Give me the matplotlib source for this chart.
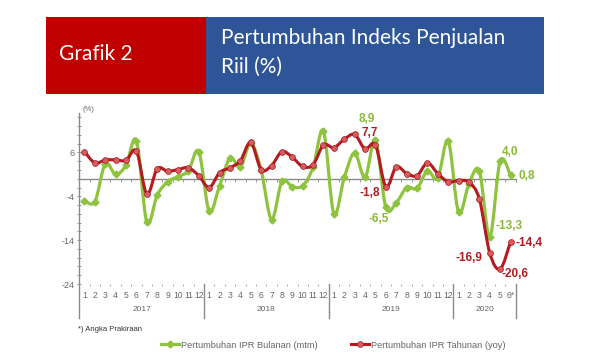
import numpy as np
import matplotlib
matplotlib.use("Agg")
import matplotlib.pyplot as plt
from matplotlib.path import Path
from matplotlib.patches import PathPatch, Rectangle
from matplotlib.lines import Line2D
from matplotlib import font_manager as fm

# ---------------- data ----------------
years = ["2017", "2018", "2019", "2020"]
months_per_year = [12, 12, 12, 6]
month_labels = [str(m) for m in range(1, 13)] * 3 + ["1", "2", "3", "4", "5", "6*"]

mtm = [-5.0, -5.2, 3.4, 1.0, 3.1, 8.7, -9.9, -3.7, -0.7, 0.5, 1.8, 6.2,
       -7.4, -1.6, 4.7, 2.7, 8.1, 2.0, -9.3, -0.6, -1.8, -1.6, 2.6, 10.9,
       -8.0, 0.3, 5.9, 0.3, 8.9, -6.5, -5.5, -2.0, -2.2, 1.8, 0.1, 8.7,
       -7.6, -1.2, 1.8, -13.3, 4.0, 0.8]
yoy = [6.2, 3.6, 4.3, 4.3, 4.2, 6.3, -3.5, 2.3, 1.7, 2.1, 2.5, 0.7,
       -2.0, 1.4, 2.5, 4.1, 8.3, 2.1, 3.0, 6.2, 4.9, 2.8, 3.2, 7.7,
       7.1, 9.0, 10.1, 6.8, 7.7, -1.8, 2.7, 1.2, 0.7, 3.6, 1.2, -0.7,
       -0.4, -0.8, -4.6, -16.9, -20.6, -14.4]
y_ticks = [6, -4, -14, -24]

# labelled points: (index, text, offset in pixels)
labels_mtm = [(28, "8,9", (-9, 21)), (29, "-6,5", (-7, -12)), (39, "-13,3", (19, 11)),
              (40, "4,0", (10, 9)), (41, "0,8", (16, -1))]
labels_yoy = [(28, "7,7", (-6, 12)), (29, "-1,8", (-16, -6)), (39, "-16,9", (-21, -5)),
              (40, "-20,6", (15, -5)), (41, "-14,4", (18, -1))]

GREEN = "#8DC33E"
GREEN_TXT = "#8CB83C"
RED = "#B31B20"
RED_FACE = "#D75A5C"
GRAY = "#666666"

names = {f.name for f in fm.fontManager.ttflist}
NARROW = "Liberation Sans Narrow" if "Liberation Sans Narrow" in names else "Liberation Sans"
HEAD = "Lato" if "Lato" in names else "DejaVu Sans"

W, H = 600, 360
fig = plt.figure(figsize=(6, 3.6), dpi=100)

def fx(px):
    return px / W

def fy(py):
    return 1 - py / H

# ---------------- header ----------------
fig.patches.append(Rectangle((fx(46), fy(94)), fx(206) - fx(46), (94 - 17.3) / H,
                             transform=fig.transFigure, facecolor="#C00000", edgecolor="none"))
fig.patches.append(Rectangle((fx(206), fy(94)), fx(544) - fx(206), (94 - 17.3) / H,
                             transform=fig.transFigure, facecolor="#2E5597", edgecolor="none"))
fig.text(fx(59), fy(60), "Grafik 2", color="white", fontsize=15, family=HEAD,
         ha="left", va="baseline")
fig.text(fx(221), fy(43.5), "Pertumbuhan Indeks Penjualan", color="white", fontsize=15,
         family=HEAD, ha="left", va="baseline")
fig.text(fx(221), fy(73), "Riil (%)", color="white", fontsize=15, family=HEAD,
         ha="left", va="baseline")

# ---------------- axes ----------------
ax = fig.add_axes([fx(79.3), fy(284), (515.7 - 79.3) / W, 171 / H])
n = len(mtm)
x = np.arange(n)
ax.set_xlim(-0.5, n - 0.5)
ax.set_ylim(-24, 15)

def smooth_path(xs, ys):
    pts = np.column_stack([xs, ys]).astype(float)
    m = len(pts)
    verts = [pts[0]]
    codes = [Path.MOVETO]
    for i in range(m - 1):
        p0 = pts[i - 1] if i > 0 else pts[i]
        p1 = pts[i]
        p2 = pts[i + 1]
        p3 = pts[i + 2] if i + 2 < m else pts[i + 1]
        c1 = p1 + (p2 - p0) / 6.0
        c2 = p2 - (p3 - p1) / 6.0
        verts += [c1, c2, p2]
        codes += [Path.CURVE4] * 3
    return Path(verts, codes)

ax.add_patch(PathPatch(smooth_path(x, mtm), fill=False, edgecolor=GREEN, lw=2.3,
                       capstyle="round", joinstyle="round", zorder=3))
ax.plot(x, mtm, ls="none", marker="D", ms=3.5, color=GREEN, zorder=4)
ax.add_patch(PathPatch(smooth_path(x, yoy), fill=False, edgecolor=RED, lw=2.2,
                       capstyle="round", joinstyle="round", zorder=5))
ax.plot(x, yoy, ls="none", marker="o", ms=4.2, markerfacecolor=RED_FACE,
        markeredgecolor="#A01A1E", markeredgewidth=0.5, zorder=6)

for idx, txt, off in labels_mtm:
    ax.annotate(txt, xy=(idx, mtm[idx]), xytext=off, textcoords="offset pixels",
                ha="center", va="center", color=GREEN_TXT, fontsize=8.5,
                fontweight="bold", family=NARROW, zorder=7)
for idx, txt, off in labels_yoy:
    ax.annotate(txt, xy=(idx, yoy[idx]), xytext=off, textcoords="offset pixels",
                ha="center", va="center", color=RED, fontsize=8.5,
                fontweight="bold", family=NARROW, zorder=7)

# spines
for s in ["top", "right"]:
    ax.spines[s].set_visible(False)
ax.spines["left"].set_color("#8a8a8a")
ax.spines["left"].set_linewidth(1.0)
ax.spines["bottom"].set_position(("data", 0))
ax.spines["bottom"].set_color("#8a8a8a")
ax.spines["bottom"].set_linewidth(1.0)

ax.set_yticks(y_ticks)
ax.set_yticklabels([str(v) for v in y_ticks])
ax.set_yticks(np.arange(-24, 15, 2), minor=True)
ax.tick_params(axis="y", which="both", colors="#8a8a8a", labelcolor=GRAY,
               labelsize=6.5, direction="inout", length=3, width=0.6, pad=2)
for lab in ax.get_yticklabels():
    lab.set_family(NARROW)

bounds = np.arange(n + 1) - 0.5
ax.set_xticks(bounds)
ax.tick_params(axis="x", which="both", labelbottom=False, length=2, width=0.6,
               colors="#8a8a8a", direction="out")

# month labels on a secondary axis at the bottom
sec = ax.secondary_xaxis("bottom")
sec.spines["bottom"].set_visible(False)
sec.set_xticks(x)
sec.set_xticklabels(month_labels)
sec.set_xticks(bounds, minor=True)
sec.tick_params(axis="x", which="major", length=0, pad=5, labelsize=6.2, labelcolor=GRAY)
sec.tick_params(axis="x", which="minor", length=1.5, width=0.6, colors="#9a9a9a")
for lab in sec.get_xticklabels():
    lab.set_family(NARROW)

# year labels and separators
start = -0.5
for yr, cnt in zip(years, months_per_year):
    ax.text(start + cnt / 2.0, -0.152, yr, transform=ax.get_xaxis_transform(),
            ha="center", va="center", fontsize=6, color=GRAY, family=NARROW)
    start += cnt
edges = np.concatenate([[-0.5], np.cumsum(months_per_year) - 0.5])
for e in edges:
    ax.axvline(e, ymin=-0.2, ymax=0.0, color="#8a8a8a", lw=1.0, clip_on=False)

ax.text(0.02, 1.02, "(%)", transform=ax.transAxes, ha="center", va="center",
        fontsize=5.5, color=GRAY, family=NARROW)

# footnote and legend
fig.text(fx(77.7), fy(329.5), "*) Angka Prakiraan", fontsize=5.5, color="#333333",
         family=NARROW, ha="left", va="center")
handles = [Line2D([], [], color=GREEN, lw=2.3, marker="D", ms=3.5),
           Line2D([], [], color=RED, lw=2.2, marker="o", ms=4.2,
                  markerfacecolor=RED_FACE, markeredgecolor="#A01A1E", markeredgewidth=0.5)]
leg = fig.legend(handles, ["Pertumbuhan IPR Bulanan (mtm)", "Pertumbuhan IPR Tahunan (yoy)"],
                 loc="center", bbox_to_anchor=(fx(333), fy(345)), ncol=2, frameon=False,
                 handlelength=2.0, handletextpad=0.15, columnspacing=3.6,
                 prop={"family": NARROW, "size": 6.7})
for t in leg.get_texts():
    t.set_color(GRAY)

fig.savefig("out.png", dpi=100)
